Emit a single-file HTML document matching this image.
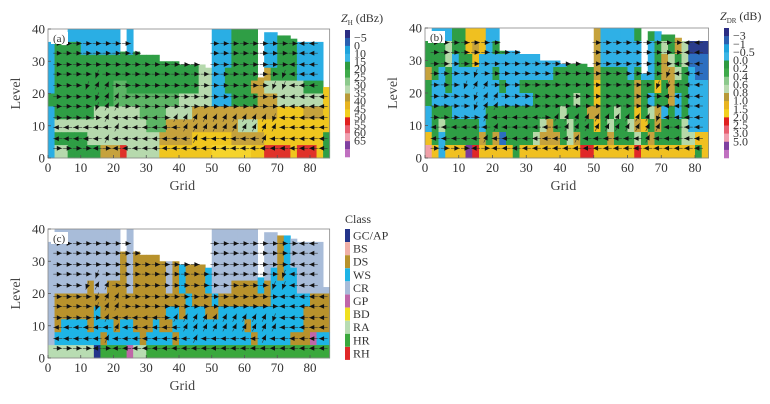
<!DOCTYPE html>
<html><head><meta charset="utf-8">
<style>
body{margin:0;background:#fff;}
svg{display:block;font-family:"Liberation Serif",serif;}
</style></head>
<body>
<svg id="fig" width="770" height="404" viewBox="0 0 770 404"></svg>
<script>
// ---- data ----
const gridCols = 43; // each column spans 2 grid units
const bandLevels = [36,32,28,24,20,16,12,8,4,0];
const topsA = [36,36,35,40,40,40,40,40,40,40,40,33,40,33,32,32,32,30,30,30,29,29,29,29,28,40,40,40,40,40,40,40,25,39,39,38,38,37,36,36,36,36,22];
const topsB = [36,40,40,40,40,40,40,40,40,40,40,33,33,33,32,32,32,30,30,30,29,29,29,29,28,40,40,40,40,40,40,40,26,39,39,38,38,37,36,36,36,36,23];
const topsC = [36,40,40,40,40,40,40,40,40,40,40,33,40,33,32,32,32,30,30,30,29,29,29,29,28,40,40,40,40,40,40,40,25,39,39,38,38,37,36,36,36,36,22];
// run-length rows: class char + count (columns of 2 grid units), top band first
const rowsA = [
"b11 .1 b1 g12 b3 g4 b1 b2 g3 b4 y1",
"b1 g4 b6 g1 b1 g12 b3 g4 b1 b2 g3 b4 y1",
"b1 g22 l2 b3 g4 .1 b2 g3 b4 y1",
"b1 g22 l2 b2 g5 k2 g1 g3 b4 y1",
"b1 g9 G2 g11 l2 b2 g4 k2 l6 g3 y1",
"g10 G10 l5 b3 g4 k3 l7 y1",
"b1 g6 l7 G4 l4 k13 y4 k3 y1",
"b1 l14 G3 k11 l3 y11",
"b1 g5 l11 k5 y6 k5 y9 g1",
"b1 l2 g5 k3 r1 l5 y8 Y6 y2 r4 y1 r3 y1 g1"];
const rowsB = [
"g1 b3 g2 y3 b2 g1 b13 k1 b5 g1 .1 g1 b1 g2 k1 l1 D3 b1",
"g3 l1 g2 y1 k1 y1 b1 g2 b13 k1 b6 .1 b1 g1 l1 g1 k1 l1 D3 b1",
"g3 l1 b1 g2 y1 b13 g4 k1 b8 g1 k1 l1 g1 l1 B3 b1",
"k1 g1 b1 g1 b6 g1 b8 g6 k1 g4 b1 g1 b2 g1 k2 l1 g1 b1 B2 b1",
"g1 b2 g1 b7 g1 b2 g11 y1 g5 k1 g2 y1 g1 k1 g2 b3 g1",
"g1 b15 g6 l1 g2 y1 g5 k1 g1 b1 g2 k1 b1 g1 b3 g1",
"b1 g3 b5 g11 l1 g3 k2 g2 l1 g2 y1 g1 l1 k1 b1 g1 b1 g1 b3 g1",
"b1 g1 l1 g5 b1 g8 l1 k1 g2 l1 g3 y1 g1 l1 g2 l1 k1 y1 g1 k1 g3 l1 b3",
"y1 g1 b1 g5 k1 g1 k1 B1 g4 l1 k3 g1 l1 k1 g4 k1 g3 l1 g1 k1 g4 l2 y3",
"p1 y1 b1 y3 v1 r1 y5 g1 y9 r2 y6 r1 y8 g1 y2"];
const rowsC = [
"c35 d1 w1 c6",
"c11 d1 c1 d3 c9 c6 c1 .1 c2 d1 w1 c6",
"c11 d1 c1 d5 c1 d1 w1 d3 w1 c7 .1 c2 d1 w1 c6",
"c11 d1 c1 d5 c1 d1 w1 d3 w1 c7 w1 c1 w1 d1 w1 w1 c5",
"c5 c1 d1 c2 d2 d1 c1 d5 c1 d1 w1 d3 w1 c3 d3 d1 w1 d1 w4 c5",
"c1 d20 w1 d3 w1 d8 w6 d3",
"c1 d6 w1 d10 w2 d1 w3 d2 w13 d4",
"c1 d1 w4 d1 w3 d1 w2 d3 w1 d2 w11 d1 w8 d4",
"c1 w7 d1 w5 d1 w2 w2 d1 w11 d1 w5 d3 P1 w2",
"R7 a1 H4 P1 R2 H28"];
const arrowLevels = [35.5,32.5,29,26,22.5,19,16,12.5,9.5,6,3];
const arrowGrid = [3,6,9,12,15,18,21,24,27,30,33,36,39,42,45,48,51,54,57,60,63,66,69,72,75,78,81,84];
const arrowDirs = [
"rrrrrrrrr.......rrrrrrrrrll.",
"rrrrrrrrrrrrrrrrrrrrrrrrrlll",
"rrrrrrrrrrrrrrrrrrrrrrrrllll",
"rrrrdrrrrrrrrrrrrrrrrrrdllll",
"rrrduurrrrrrrrrrrrrrrrddllll",
"rrrrduurrrrrrrrrrrrrrrrlllll",
"rrrrduurrrrrrrrrrrrrrrrlllll",
"rrrrrulllllruuuuuuuuuudlllll",
"llllllulllllluuuuuuuuuulllll",
"lllllullllllllullllllullllll",
"rrrrlrllllllllllllllllllllll"];
const zhLabels = ["-5","0","10","15","20","25","30","35","40","45","50","55","60","65"];
const zdrLabels = ["-3","-1","-0.5","0.0","0.2","0.4","0.6","0.8","1.0","1.5","2.0","2.5","3.0","5.0"];
const classLabels = ["GC/AP","BS","DS","WS","CR","GP","BD","RA","HR","RH"];
const xTicks = [0,10,20,30,40,50,60,70,80];
const yTicks = [0,10,20,30,40];

const palA = {b:"#2aaee4",g:"#2f9e45",G:"#5cb565",l:"#b6d9ad",k:"#c6a23c",y:"#f0c61e",Y:"#f5d42c",r:"#e0322a"};
const palB = {D:"#2a3c8c",B:"#2c6fc0",b:"#2fb0e6",g:"#2f9e45",G:"#6cbf6a",l:"#b6d9a8",k:"#c6a23c",y:"#f0c020",r:"#e02828",p:"#f0a0a8",v:"#7a3a9a"};
const palC = {a:"#23348a",S:"#f0b0a8",d:"#b8922c",w:"#1eb4e6",c:"#a8bcd9",P:"#c066a8",Y:"#f0e020",R:"#b8dcb2",H:"#3aa83c",X:"#e02828"};
const cbarA = ["#2b2d83","#2a5fb0","#1fa3dc","#3bb6e6","#2e9b40","#3faa4a","#8cc98c","#b9dab0","#b89a38","#e8b420","#f2d020","#e02020","#e86070","#f0a0b0","#8040a0","#c070c0"];
const cbarB = ["#2b2d83","#2a5fb0","#1fa3dc","#3bb6e6","#2e9b40","#3faa4a","#8cc98c","#b9dab0","#b89a38","#e8b420","#f2d020","#e02020","#e86070","#f0a0b0","#8040a0","#c070c0"];
const classColors = ["#23348a","#f0b0a8","#b8922c","#1eb4e6","#a8bcd9","#c066a8","#f0e020","#b8dcb2","#3aa83c","#e02828"];

// ---- drawing ----
const NS="http://www.w3.org/2000/svg";
const svg=document.getElementById("fig");
function mk(tag,attrs,parent){const e=document.createElementNS(NS,tag);for(const k in attrs)e.setAttribute(k,attrs[k]);(parent||svg).appendChild(e);return e;}
function expand(rle){let s="";rle.trim().split(/\s+/).forEach(t=>{s+=t[0].repeat(parseInt(t.slice(1)));});while(s.length<gridCols)s+=".";return s.slice(0,gridCols);}

const panels=[
 {id:"a",x0:48,sx:3.275,y0:158,sy:3.225,gmax:86,rows:rowsA,tops:topsA,pal:palA},
 {id:"b",x0:425,sx:3.375,y0:158,sy:3.25,gmax:84,rows:rowsB,tops:topsB,pal:palB},
 {id:"c",x0:48,sx:3.275,y0:358,sy:3.225,gmax:86,rows:rowsC,tops:topsC,pal:palC}];

const dirVec={r:[1,0],l:[-1,0],u:[0.45,0.9],d:[-0.35,-0.94]};

panels.forEach(p=>{
 const X=g=>p.x0+g*p.sx, Y=l=>p.y0-l*p.sy;
 const g=mk("g",{});
 
 
 const cells=mk("g",{},g);
 
 
 p.rows.forEach((rle,ri)=>{
  const row=expand(rle);
  const lo=bandLevels[ri], hi=lo+4;
  for(let ci=0;ci<gridCols;ci++){
   const ch=row[ci]; if(!ch||ch==='.'||!p.pal[ch]) continue;
   const g0=ci*2, g1=Math.min(ci*2+2,p.gmax); if(g0>=p.gmax) continue;
   const top=Math.min(hi,p.tops[ci]); if(top<=lo) continue;
   const r=mk("rect",{x:X(g0).toFixed(2),y:Y(top).toFixed(2),width:((g1-g0)*p.sx+0.4).toFixed(2),height:((top-lo)*p.sy+0.4).toFixed(2),fill:p.pal[ch]},cells);
   
   
  }
 });
 // arrows
 const ag=mk("g",{},g);
 
 
 arrowLevels.forEach((lv,ri)=>{
  arrowGrid.forEach((gx,ci)=>{
   const d=(arrowDirs[ri]||"")[ci]; if(!d||!dirVec[d]) return;
   const ci2=Math.floor(gx/2); if(gx>=p.gmax||lv>p.tops[Math.min(ci2,42)]) return;
   const cx=X(gx), cy=Y(lv), v=dirVec[d], L=9;
   const x1=cx-v[0]*L/2, y1=cy+v[1]*L/2, x2=cx+v[0]*L/2, y2=cy-v[1]*L/2;
   const ln=mk("line",{x1:x1,y1:y1,x2:x2,y2:y2,stroke:"#333","stroke-width":0.6},ag);
   
   
   const ux=v[0],uy=-v[1],hx=cx+ux*1.5,hy=cy+uy*1.5;
   const hl=5,hw=2.4;
   const pts=[[hx+ux*hl/2,hy+uy*hl/2],[hx-ux*hl/2-uy*hw,hy-uy*hl/2+ux*hw],[hx-ux*hl/2+uy*hw,hy-uy*hl/2-ux*hw]];
   const hd=mk("polygon",{points:pts.map(q=>q[0].toFixed(1)+","+q[1].toFixed(1)).join(" "),fill:"#111"},ag);
   
   
  });
 });
 // frame
 const fr=mk("rect",{x:X(0),y:Y(40),width:p.gmax*p.sx,height:40*p.sy,fill:"none",stroke:"#888","stroke-width":0.8},g);
 
 
 const lb=mk("rect",{x:X(0)+3,y:Y(40)+3,width:17,height:12,fill:"#fff"},g);
 
 
 const lt=mk("text",{x:X(0)+5,y:Y(40)+13,"font-size":11,fill:"#333"},g);
 lt.textContent="("+p.id+")";
 
 
 xTicks.forEach(t=>{
  const tk=mk("line",{x1:X(t),x2:X(t),y1:Y(0),y2:Y(0)-3,stroke:"#555","stroke-width":0.8},g);
  
  
  const tx=mk("text",{x:X(t),y:Y(0)+14,"font-size":13,"text-anchor":"middle",fill:"#333"},g);
  tx.textContent=t;
  
  
 });
 yTicks.forEach(t=>{
  const tk=mk("line",{x1:X(0),x2:X(0)+3,y1:Y(t),y2:Y(t),stroke:"#555","stroke-width":0.8},g);
  
  
  const tx=mk("text",{x:X(0)-3,y:Y(t)+4.5,"font-size":13,"text-anchor":"end",fill:"#333"},g);
  tx.textContent=t;
  
  
 });
 const xt=mk("text",{x:X(0)+41*p.sx,y:Y(0)+32,"font-size":14,"text-anchor":"middle",fill:"#444"},g);
 xt.textContent="Grid";
 
 
 const yx=X(0)-28, yy=Y(20);
 const yt=mk("text",{x:yx,y:yy,"font-size":14,"text-anchor":"middle",fill:"#444",transform:"rotate(-90 "+yx+" "+yy+")"},g);
 yt.textContent="Level";
 
 
});

function colorbar(x,y0,y1,cols,labels,title,sub,unit,name){
 const g=mk("g",{});
 
 
 const h=(y1-y0)/cols.length;
 cols.forEach((c,i)=>{
  const r=mk("rect",{x:x,y:y0+i*h,width:5,height:h+0.3,fill:c},g);
  
  
 });
 labels.forEach((t,i)=>{
  const tx=mk("text",{x:x+9,y:y0+(i+1)*h+3.5,"font-size":12,fill:"#333"},g);
  tx.textContent=t.replace("-","\u2212");
  
  
 });
 const tt=mk("text",{x:x-4,y:y0-8,"font-size":12,fill:"#333"},g);
 tt.innerHTML='<tspan font-style="italic">'+title+'</tspan><tspan font-size="7" dy="3">'+sub+'</tspan><tspan dy="-3"> '+unit+'</tspan>';
 
 
}
colorbar(345,30,157,cbarA,zhLabels,"Z","H","(dBz)","zh-colorbar");
colorbar(724,28,158,cbarB,zdrLabels,"Z","DR","(dB)","zdr-colorbar");

const lg=mk("g",{});


const ltitle=mk("text",{x:345,y:223,"font-size":12,fill:"#333"},lg);
ltitle.textContent="Class";


classLabels.forEach((t,i)=>{
 const y=229+i*13.1;
 const r=mk("rect",{x:345,y:y,width:5,height:13,fill:classColors[i]},lg);
 
 
 const tx=mk("text",{x:353,y:y+10.5,"font-size":12,fill:"#333"},lg);
 tx.textContent=t;
 
 
});
</script>
</body></html>
